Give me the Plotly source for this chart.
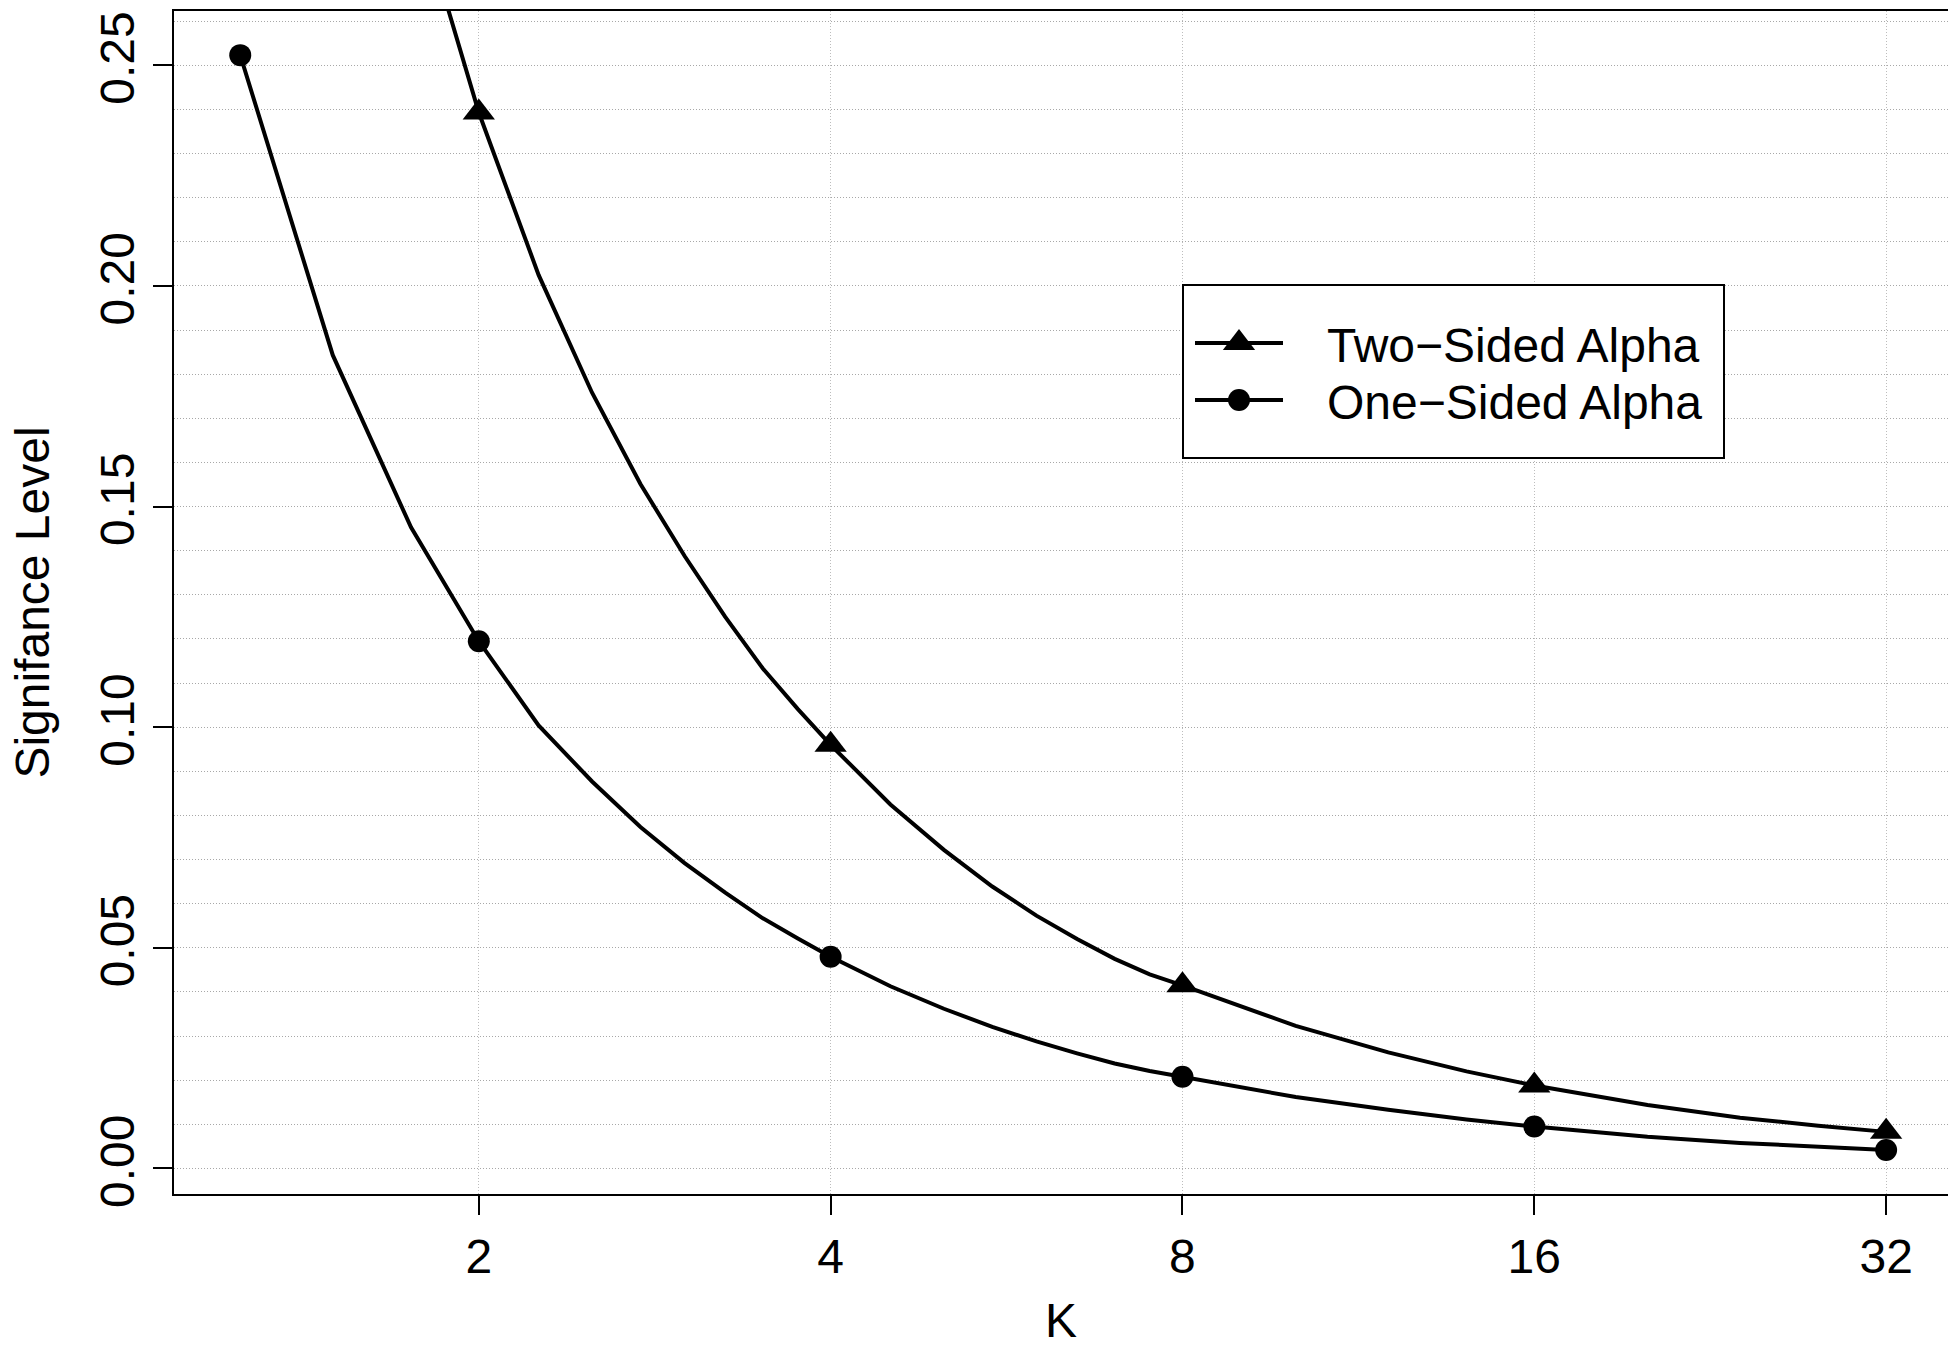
import plotly.graph_objects as go

# ---- data ----
K = [1.25, 1.5, 1.75, 2, 2.25, 2.5, 2.75, 3, 3.25, 3.5, 3.75, 4,
     4.5, 5, 5.5, 6, 6.5, 7, 7.5, 8, 10, 12, 14, 16, 20, 24, 28, 32]

one_sided = [0.2523, 0.1843, 0.1453, 0.1195, 0.1004, 0.0877, 0.0774, 0.0692,
             0.0625, 0.0567, 0.0521, 0.0480, 0.0413, 0.0362, 0.0321, 0.0288,
             0.0261, 0.0238, 0.0221, 0.0208, 0.0162, 0.0133, 0.0111, 0.0095,
             0.0072, 0.0058, 0.0049, 0.0042]

two_sided = [0.505, 0.369, 0.291, 0.2393, 0.2025, 0.1758, 0.1551, 0.1388,
             0.1250, 0.1133, 0.1041, 0.0960, 0.0825, 0.0722, 0.0639, 0.0573,
             0.0520, 0.0475, 0.0440, 0.0415, 0.0323, 0.0263, 0.0220, 0.0188,
             0.0144, 0.0115, 0.0097, 0.0083]

marker_K = [1.25, 2, 4, 8, 16, 32]
x_ticks = [2, 4, 8, 16, 32]
x_tick_labels = ["2", "4", "8", "16", "32"]
y_ticks = [0.00, 0.05, 0.10, 0.15, 0.20, 0.25]
y_tick_labels = ["0.00", "0.05", "0.10", "0.15", "0.20", "0.25"]
legend_labels = ["Two\u2212Sided Alpha", "One\u2212Sided Alpha"]
x_title = "K"
y_title = "Signifance Level"

# ---- layout geometry ----
W, H = 1948, 1347
L, R, T, B = 174, 0, 11, 153
PW, PH = W - L - R, H - T - B
FONT = "Liberation Sans, Arial, Helvetica, sans-serif"
FS = 48
LW = 4


def px(xp):
    return (xp - L) / PW


def py(yp):
    return (H - B - yp) / PH


idx = [K.index(k) for k in marker_K]

fig = go.Figure()
fig.add_trace(go.Scatter(x=K, y=two_sided, mode="lines", name=legend_labels[0],
                         line=dict(color="black", width=LW), showlegend=False))
fig.add_trace(go.Scatter(x=K, y=one_sided, mode="lines", name=legend_labels[1],
                         line=dict(color="black", width=LW), showlegend=False))
fig.add_trace(go.Scatter(x=[K[i] for i in idx], y=[two_sided[i] for i in idx],
                         mode="markers", name=legend_labels[0], showlegend=False,
                         marker=dict(symbol="triangle-up", size=28, color="black",
                                     line=dict(width=0))))
fig.add_trace(go.Scatter(x=[K[i] for i in idx], y=[one_sided[i] for i in idx],
                         mode="markers", name=legend_labels[1], showlegend=False,
                         marker=dict(symbol="circle", size=22, color="black",
                                     line=dict(width=0))))

# ---- legend drawn as shapes + text ----
shapes = []
annotations = []
shapes.append(dict(type="rect", xref="paper", yref="paper",
                   x0=px(1183), x1=px(1724), y0=py(285), y1=py(458),
                   line=dict(color="black", width=2), fillcolor="white", layer="above"))
rows = [343, 400]
for j, yy in enumerate(rows):
    shapes.append(dict(type="line", xref="paper", yref="paper",
                       x0=px(1195), x1=px(1283), y0=py(yy), y1=py(yy),
                       line=dict(color="black", width=LW), layer="above"))
    cx = 1239
    if j == 0:
        r = 14
        rt = r * 2 / 3 ** 0.5
        path = "M {} {} L {} {} L {} {} Z".format(
            px(cx - rt), py(yy + r / 2), px(cx + rt), py(yy + r / 2), px(cx), py(yy - r))
        shapes.append(dict(type="path", xref="paper", yref="paper", path=path,
                           fillcolor="black", line=dict(width=0), layer="above"))
    else:
        rr = 11
        shapes.append(dict(type="circle", xref="paper", yref="paper",
                           x0=px(cx - rr), x1=px(cx + rr), y0=py(yy + rr), y1=py(yy - rr),
                           fillcolor="black", line=dict(width=0), layer="above"))
    annotations.append(dict(text=legend_labels[j], xref="paper", yref="paper",
                            x=px(1325), y=py(yy + 2), xanchor="left", yanchor="middle",
                            showarrow=False, font=dict(family=FONT, size=FS, color="black")))

fig.update_layout(
    width=W, height=H,
    margin=dict(l=L, r=R, t=T, b=B, pad=0),
    paper_bgcolor="white", plot_bgcolor="white",
    font=dict(family=FONT, size=FS, color="black"),
    showlegend=False,
    shapes=shapes, annotations=annotations,
    xaxis=dict(
        type="log", range=[0.04023, 1.5581],
        tickvals=x_ticks, ticktext=x_tick_labels,
        ticks="outside", ticklen=19, tickwidth=2, tickcolor="black",
        showline=True, linewidth=2, linecolor="black", mirror=True,
        showgrid=True, gridcolor="#bdbdbd", gridwidth=1, griddash="1px,2px",
        zeroline=False,
        tickfont=dict(family=FONT, size=FS, color="black"),
        title=dict(text=x_title, font=dict(family=FONT, size=FS), standoff=28),
    ),
    yaxis=dict(
        range=[-0.00578, 0.2623],
        tickvals=y_ticks, ticktext=y_tick_labels, tickangle=-90,
        ticks="outside", ticklen=19, tickwidth=2, tickcolor="black",
        showline=True, linewidth=2, linecolor="black", mirror=False,
        showgrid=True, gridcolor="#a8a8a8", gridwidth=1, griddash="1px,2px",
        zeroline=False,
        minor=dict(dtick=0.01, tick0=0, showgrid=True, gridcolor="#a8a8a8",
                   gridwidth=1, griddash="1px,2px", ticks=""),
        tickfont=dict(family=FONT, size=FS, color="black"),
        title=dict(text=y_title, font=dict(family=FONT, size=FS), standoff=26),
    ),
)

fig.write_html("out.html")
